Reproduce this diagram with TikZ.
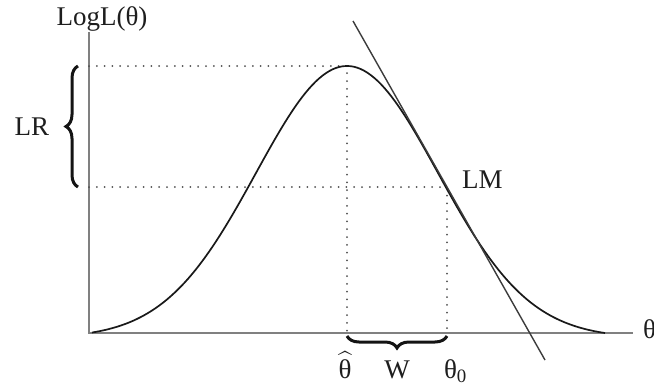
\documentclass[tikz,border=0pt]{standalone}
\usepackage{amsmath}
\usepackage{fontspec}
\setmainfont{Liberation Serif}
\usetikzlibrary{decorations.pathreplacing}

\begin{document}
\begin{tikzpicture}[x=1pt,y=-1pt,
  lbl/.style={inner sep=0pt,outer sep=0pt,text={rgb,255:red,30;green,30;blue,30},font=\fontsize{27}{32}\selectfont},
  axisline/.style={draw={rgb,255:red,128;green,128;blue,128},line width=1.3pt},
  guide/.style={draw={rgb,255:red,80;green,80;blue,80},line width=2pt,line cap=round,dash pattern=on 0pt off 7.8pt},
  curveline/.style={draw={rgb,255:red,25;green,25;blue,25},line width=1.7pt},
  tangentline/.style={draw={rgb,255:red,60;green,60;blue,60},line width=1.4pt},
  bracedeco/.style={decorate,decoration={brace,amplitude=12pt},draw={rgb,255:red,20;green,20;blue,20},line width=3pt}]
\path[use as bounding box] (0,0) rectangle (654,389);
\path[fill=white,draw=none] (0,0) rectangle (654,389);
% axes
\coordinate (ytop) at (89,32);
\coordinate (O) at (89,333);
\coordinate (xend) at (633,333);
\draw[axisline] (ytop) -- (O) -- (xend);
\node[lbl,anchor=base] (ylab) at (102,25) {LogL(θ)};
\node[lbl,anchor=base west] (xlab) at (643,338) {θ};
% maximum and LM point
\coordinate (peak) at (347,66);
\coordinate (lmpt) at (447,187);
\draw[guide] (O |- peak) -- (peak) -- (peak |- O);
\draw[guide] (O |- lmpt) -- (lmpt) -- (lmpt |- O);
% log-likelihood
\draw[curveline] plot[domain=92:605,samples=150] (\x,{333-267*(exp(-0.5*((\x-347)/91)^2)-0.018)/0.982});
% tangent at theta_0
\draw[tangentline] ([shift={(-94,-166)}]lmpt) -- ([shift={(98,173)}]lmpt);
\node[lbl,anchor=base west] (lm) at (462,188) {LM};
% LR brace
\draw[bracedeco] ([xshift=-11pt]O |- lmpt) -- ([xshift=-11pt]O |- peak);
\node[lbl,anchor=base] (lr) at (32,135) {LR};
% W brace
\draw[bracedeco] ([yshift=-3pt]lmpt |- O) -- ([yshift=-3pt]peak |- O);
\node[lbl,anchor=base] (thhat) at (345,378) {$\widehat{\text{θ}}$};
\node[lbl,anchor=base] (wlab) at (397,378) {W};
\node[lbl,anchor=base west] (th0) at (444,378) {θ\textsubscript{0}};
\end{tikzpicture}
\end{document}
